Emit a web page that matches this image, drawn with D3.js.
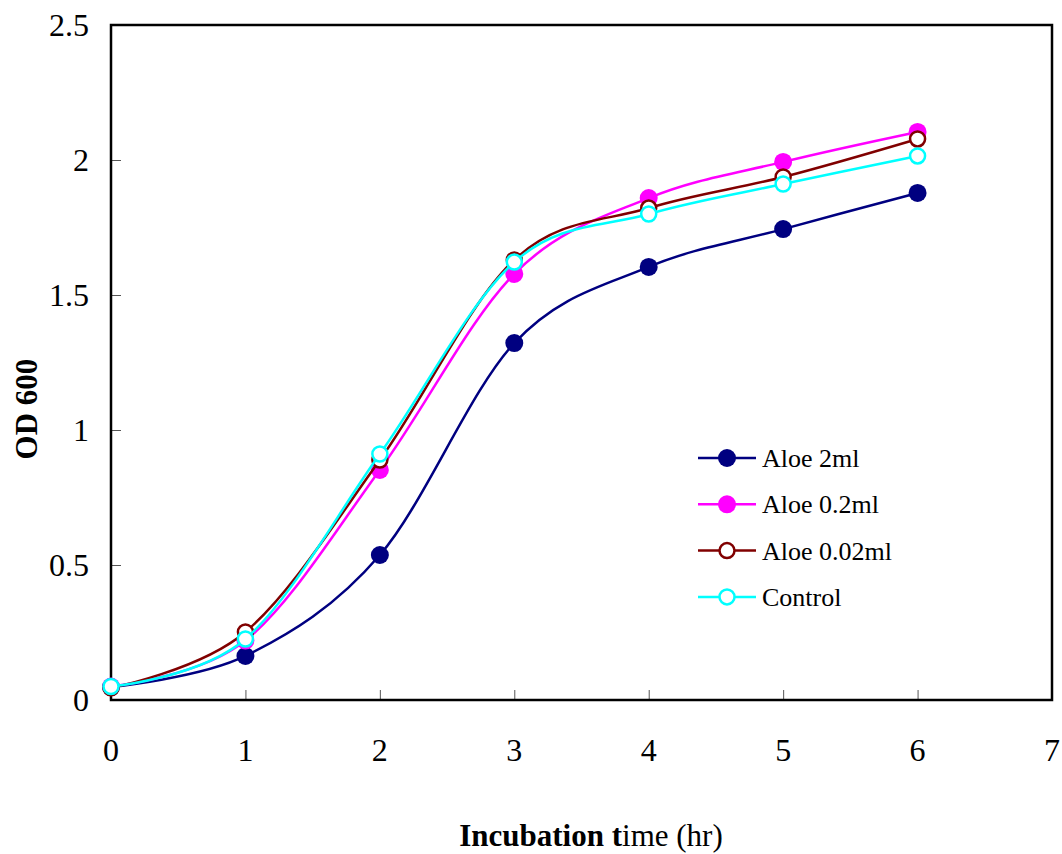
<!DOCTYPE html>
<html>
<head>
<meta charset="utf-8">
<script src="https://cdn.jsdelivr.net/npm/d3@7"></script>
<style>
  body { margin: 0; background: #fff; }
  text { font-family: "Liberation Serif", "Times New Roman", serif; fill: #000; }
</style>
</head>
<body>
<div id="vis"></div>
<script>
var hours = [0, 1, 2, 3, 4, 5, 6];
var seriesNames = ['Aloe 2ml', 'Aloe 0.2ml', 'Aloe 0.02ml', 'Control'];
var aloe2ml = [0.048, 0.163, 0.537, 1.322, 1.604, 1.744, 1.878];
var aloe02ml = [0.05, 0.22, 0.852, 1.578, 1.859, 1.993, 2.104];
var aloe002ml = [0.045, 0.252, 0.889, 1.63, 1.822, 1.937, 2.078];
var control = [0.05, 0.226, 0.911, 1.622, 1.8, 1.911, 2.015];
var xTicks = [0, 1, 2, 3, 4, 5, 6, 7];
var yTicks = [0, 0.5, 1, 1.5, 2, 2.5];

var width = 1062;
var height = 854;
var margin = { top: 25, right: 10, bottom: 154, left: 111 };

var series = [
  { name: seriesNames[0], values: aloe2ml, color: '#000080', filled: true },
  { name: seriesNames[1], values: aloe02ml, color: '#ff00ff', filled: true },
  { name: seriesNames[2], values: aloe002ml, color: '#800000', filled: false },
  { name: seriesNames[3], values: control, color: '#00ffff', filled: false }
];

var x = d3.scaleLinear().domain([0, 7]).range([margin.left, width - margin.right]);
var y = d3.scaleLinear().domain([0, 2.5]).range([height - margin.bottom, margin.top]);

var svg = d3.select('#vis').append('svg')
  .attr('width', width)
  .attr('height', height);

// inward ticks
svg.append('g')
  .attr('transform', 'translate(0,' + y(0) + ')')
  .call(d3.axisTop(x).tickValues(xTicks.slice(1, 7)).tickSize(10).tickFormat(''))
  .call(function (g) { g.select('.domain').remove(); })
  .selectAll('line').attr('stroke', '#555').attr('stroke-width', 1);

svg.append('g')
  .attr('transform', 'translate(' + x(0) + ',0)')
  .call(d3.axisRight(y).tickValues(yTicks.slice(1, 5)).tickSize(10).tickFormat(''))
  .call(function (g) { g.select('.domain').remove(); })
  .selectAll('line').attr('stroke', '#555').attr('stroke-width', 1);

// frame
svg.append('rect')
  .attr('x', x(0))
  .attr('y', y(2.5))
  .attr('width', x(7) - x(0))
  .attr('height', y(0) - y(2.5))
  .attr('fill', 'none')
  .attr('stroke', '#000')
  .attr('stroke-width', 2.5);

// tick labels
svg.selectAll('.xlab')
  .data(xTicks)
  .enter().append('text')
  .attr('class', 'xlab')
  .attr('x', function (d) { return x(d); })
  .attr('y', 761)
  .attr('text-anchor', 'middle')
  .style('font-size', '32px')
  .text(function (d) { return d; });

svg.selectAll('.ylab')
  .data(yTicks)
  .enter().append('text')
  .attr('class', 'ylab')
  .attr('x', 89)
  .attr('y', function (d) { return y(d) + 11; })
  .attr('text-anchor', 'end')
  .style('font-size', '32px')
  .text(function (d) { return d; });

// axis titles
var xt = svg.append('text')
  .attr('x', 591)
  .attr('y', 846)
  .attr('text-anchor', 'middle')
  .style('font-size', '31px');
xt.append('tspan').style('font-weight', 'bold').text('Incubation t');
xt.append('tspan').text('ime (hr)');

svg.append('text')
  .attr('transform', 'translate(37,' + 409 + ') rotate(-90)')
  .attr('text-anchor', 'middle')
  .style('font-size', '31px')
  .style('font-weight', 'bold')
  .text('OD 600');

var line = d3.line()
  .x(function (d, i) { return x(hours[i]); })
  .y(function (d) { return y(d); })
  .curve(d3.curveCatmullRom.alpha(0));

series.forEach(function (s) {
  var g = svg.append('g');
  g.append('path')
    .datum(s.values)
    .attr('fill', 'none')
    .attr('stroke', s.color)
    .attr('stroke-width', 2.5)
    .attr('d', line);
  g.selectAll('circle')
    .data(s.values)
    .enter().append('circle')
    .attr('cx', function (d, i) { return x(hours[i]); })
    .attr('cy', function (d) { return y(d); })
    .attr('r', s.filled ? 9 : 7.5)
    .attr('fill', s.filled ? s.color : '#fff')
    .attr('stroke', s.color)
    .attr('stroke-width', s.filled ? 0 : 2.5);
});

// legend
var legend = svg.selectAll('.legend')
  .data(series)
  .enter().append('g')
  .attr('class', 'legend')
  .attr('transform', function (d, i) { return 'translate(698,' + (458 + i * 46.3) + ')'; });

legend.append('line')
  .attr('x1', 0).attr('x2', 58)
  .attr('stroke', function (d) { return d.color; })
  .attr('stroke-width', 2.5);
legend.append('circle')
  .attr('cx', 29)
  .attr('r', function (d) { return d.filled ? 9 : 7.5; })
  .attr('fill', function (d) { return d.filled ? d.color : '#fff'; })
  .attr('stroke', function (d) { return d.color; })
  .attr('stroke-width', function (d) { return d.filled ? 0 : 2.5; });
legend.append('text')
  .attr('x', 64)
  .attr('y', 9)
  .style('font-size', '26px')
  .text(function (d) { return d.name; });
</script>
</body>
</html>
